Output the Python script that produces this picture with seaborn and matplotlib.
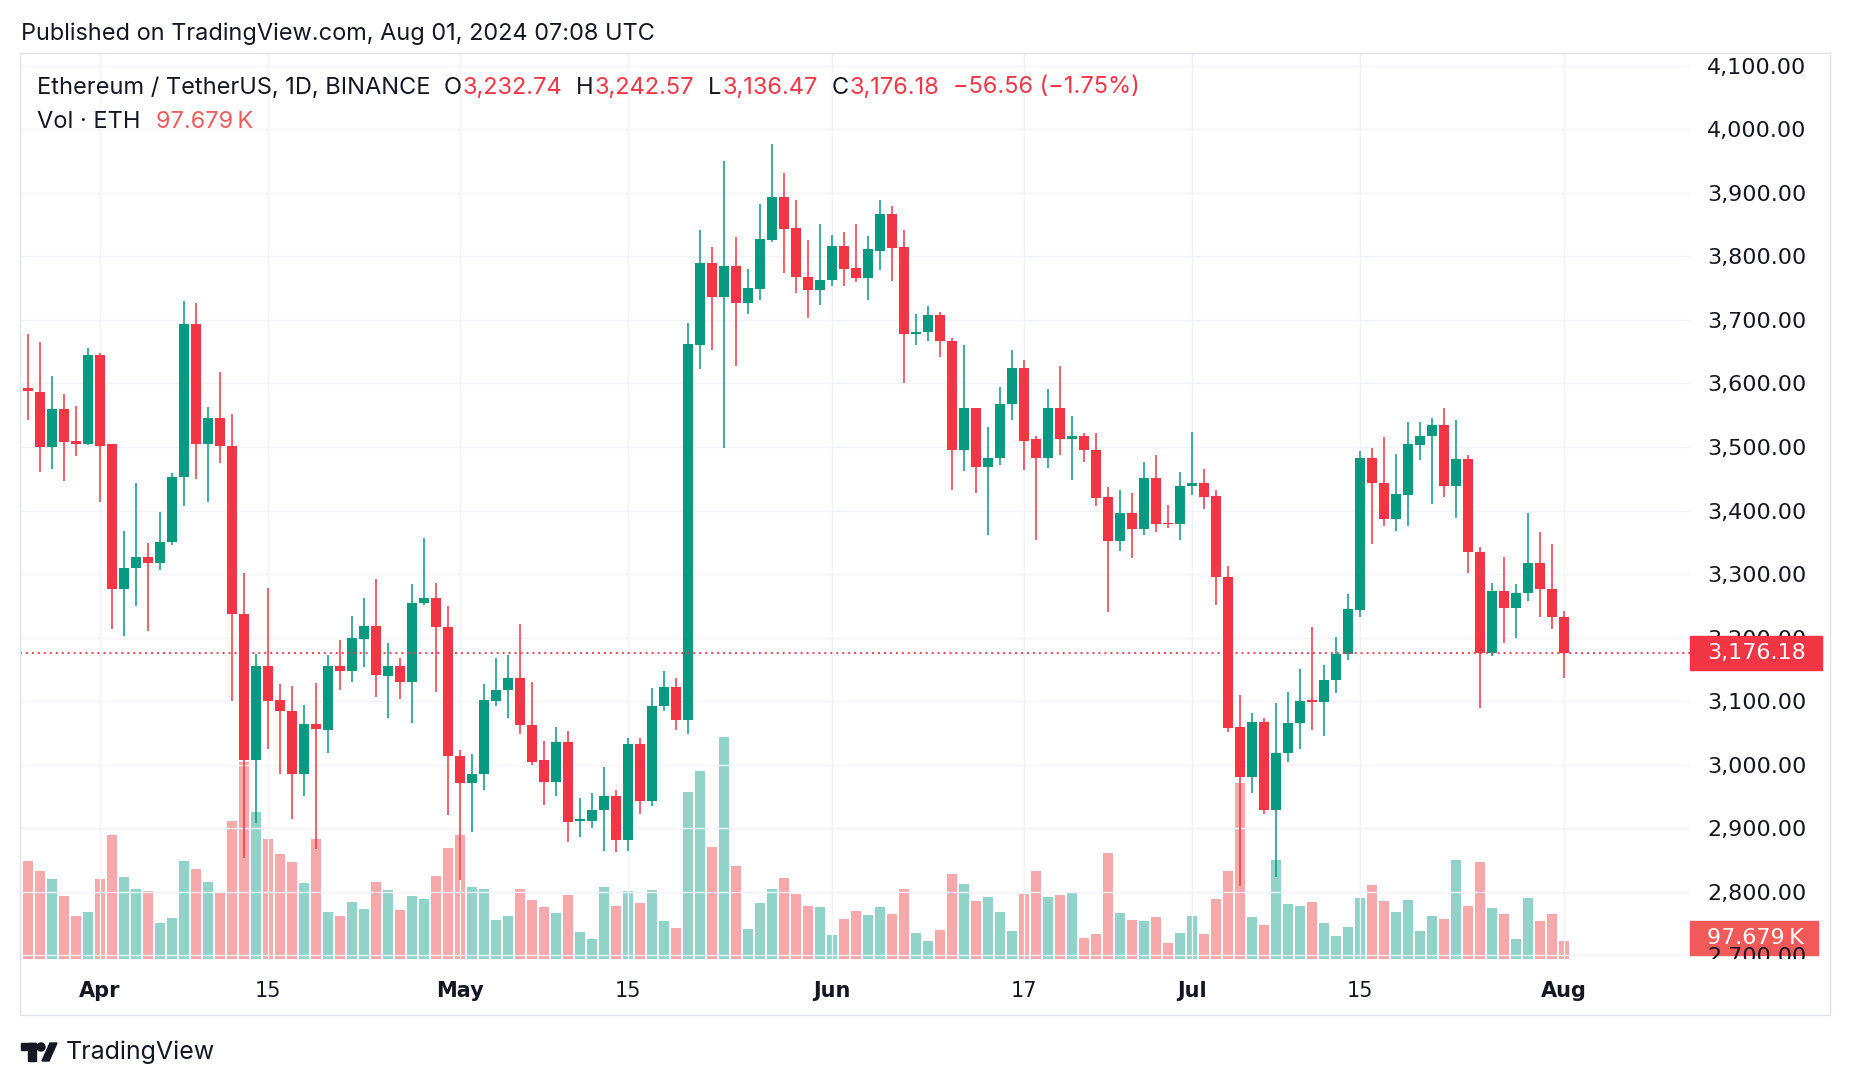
import matplotlib
matplotlib.use("Agg")
import matplotlib.pyplot as plt
import matplotlib.patches as mpatches
import matplotlib.transforms as mtrans
import numpy as np
import pandas as pd
import seaborn as sns

# ETH/USDT daily candles, 26 Mar - 1 Aug 2024
dates = pd.date_range("2024-03-26", "2024-08-01", freq="D")

opens = [
    3592, 3587, 3500, 3560, 3510, 3505,
    3645, 3504, 3277, 3309, 3327, 3317, 3350, 3452, 3694, 3505,
    3546, 3501, 3237, 3007, 3156, 3102, 3084, 2985, 3064, 3055,
    3156, 3147, 3198, 3218, 3139, 3156, 3130, 3254, 3263, 3216,
    3013, 2972, 2986, 3101, 3117, 3137, 3062, 3007, 2973, 3036,
    2911, 2912, 2929, 2951, 2882, 3033, 2943, 3092, 3123, 3071,
    3660, 3789, 3736, 3784, 3726, 3749, 3825, 3894, 3844, 3767, 3747,
    3762, 3816, 3781, 3766, 3809, 3866, 3814, 3678, 3681, 3707,
    3667, 3496, 3561, 3468, 3482, 3567, 3625, 3512, 3482, 3561,
    3513, 3518, 3496, 3421, 3352, 3396, 3371, 3451, 3381, 3378,
    3438, 3443, 3423, 3295, 3059, 2981, 3067, 2929, 3018, 3065,
    3102, 3099, 3133, 3175, 3244, 3483, 3443, 3386, 3425, 3503,
    3518, 3535, 3438, 3481, 3334, 3176, 3274, 3247, 3270, 3317, 3277,
    3232.74,
]
highs = [
    3678, 3665, 3612, 3584, 3565, 3655,
    3648, 3505, 3367, 3444, 3349, 3398, 3459, 3730, 3727, 3563,
    3618, 3552, 3301, 3175, 3278, 3127, 3124, 3094, 3129, 3172,
    3197, 3234, 3263, 3293, 3192, 3168, 3285, 3357, 3286, 3250,
    3023, 3017, 3127, 3168, 3172, 3222, 3130, 3038, 3059, 3053,
    2948, 2955, 2997, 2960, 3042, 3042, 3120, 3147, 3137, 3695,
    3841, 3814, 3950, 3830, 3780, 3883, 3977, 3931, 3888, 3825, 3851,
    3833, 3839, 3851, 3832, 3888, 3879, 3841, 3710, 3722, 3713,
    3672, 3660, 3562, 3532, 3594, 3653, 3637, 3517, 3591, 3627,
    3548, 3522, 3522, 3437, 3432, 3427, 3477, 3488, 3408, 3460,
    3524, 3465, 3432, 3313, 3110, 3081, 3073, 3097, 3114, 3150,
    3217, 3157, 3201, 3269, 3494, 3498, 3516, 3489, 3540, 3540,
    3546, 3561, 3542, 3488, 3342, 3286, 3327, 3284, 3396, 3366, 3348,
    3242.57,
]
lows = [
    3543, 3460, 3465, 3446, 3485, 3503,
    3414, 3213, 3203, 3250, 3210, 3307, 3345, 3407, 3450, 3413,
    3474, 3101, 2853, 2909, 3024, 2986, 2915, 2951, 2867, 3019,
    3117, 3130, 3153, 3106, 3073, 3103, 3066, 3251, 3115, 2921,
    2818, 2894, 2960, 3093, 3073, 3048, 2999, 2937, 2951, 2879,
    2887, 2901, 2865, 2862, 2865, 2923, 2935, 3084, 3054, 3048,
    3623, 3653, 3498, 3627, 3709, 3731, 3823, 3774, 3743, 3703, 3724,
    3753, 3753, 3759, 3731, 3778, 3761, 3600, 3660, 3666, 3642,
    3432, 3462, 3428, 3362, 3472, 3542, 3464, 3354, 3467, 3487,
    3448, 3476, 3407, 3240, 3337, 3325, 3362, 3366, 3372, 3354,
    3425, 3402, 3252, 3051, 2809, 2956, 2923, 2823, 3004, 3024,
    3055, 3045, 3113, 3164, 3233, 3347, 3376, 3367, 3376, 3480,
    3410, 3421, 3388, 3301, 3089, 3171, 3191, 3199, 3258, 3233, 3214,
    3136.47,
]
closes = [
    3588, 3500, 3560, 3508, 3505, 3645,
    3502, 3277, 3310, 3327, 3317, 3351, 3453, 3694, 3505, 3546,
    3501, 3237, 3007, 3156, 3101, 3084, 2985, 3064, 3056, 3156,
    3147, 3199, 3218, 3141, 3156, 3130, 3255, 3263, 3216, 3013,
    2972, 2986, 3102, 3118, 3137, 3062, 3005, 2973, 3036, 2910,
    2914, 2929, 2951, 2881, 3033, 2943, 3093, 3123, 3071, 3662,
    3789, 3736, 3784, 3726, 3750, 3827, 3894, 3843, 3767, 3747, 3762,
    3816, 3780, 3766, 3811, 3866, 3813, 3678, 3681, 3707, 3666,
    3496, 3561, 3468, 3482, 3568, 3625, 3510, 3482, 3561, 3512,
    3518, 3496, 3419, 3352, 3396, 3371, 3451, 3378, 3378, 3438,
    3443, 3422, 3296, 3058, 2981, 3067, 2929, 3018, 3065, 3100,
    3099, 3133, 3175, 3245, 3483, 3443, 3386, 3426, 3504, 3518,
    3535, 3438, 3481, 3334, 3176, 3274, 3247, 3270, 3317, 3277, 3232.74,
    3176.18,
]
# volume in thousands of ETH
volumes_k = [
    543, 484, 443, 349, 235, 261,
    443, 682, 450, 388, 378, 196, 227, 543, 498, 426,
    366, 763, 1086, 809, 665, 577, 538, 421, 665, 261,
    239, 316, 278, 426, 383, 273, 349, 333, 459, 615,
    682, 400, 388, 213, 239, 388, 323, 289, 256, 354,
    151, 113, 400, 294, 374, 307, 380, 208, 169, 921,
    1038, 617, 1225, 512, 164, 307, 386, 447, 357, 293, 286,
    131, 219, 263, 243, 286, 248, 386, 144, 102, 158,
    468, 412, 319, 342, 257, 152, 357, 486, 342, 351,
    363, 114, 137, 585, 252, 214, 208, 231, 88, 144,
    237, 137, 333, 488, 969, 230, 190, 544, 302, 290,
    314, 198, 125, 174, 339, 407, 318, 258, 323, 153,
    235, 219, 544, 295, 534, 279, 246, 109, 339, 207, 251,
    97.679,
]

tick_dates = ["2024-04-01", "2024-04-15", "2024-05-01", "2024-05-15", "2024-06-01",
              "2024-06-17", "2024-07-01", "2024-07-15", "2024-08-01"]
tick_labels = ["Apr", "15", "May", "15", "Jun", "17", "Jul", "15", "Aug"]
month_labels = {"Apr", "May", "Jun", "Jul", "Aug"}
price_ticks = list(range(2700, 4200, 100))

UP, DOWN = "#089981", "#f23645"
UP_VOL, DOWN_VOL = "#92d3c9", "#f7a8ab"
VOL_LABEL = "#f25a5a"
TEXT = "#131722"
GRID = "#f0f3fa"
FRAME = "#e0e3eb"

W, H = 1850, 1086
sns.set_theme(style="white")
plt.rcParams["font.family"] = ["DejaVu Sans"]

df = pd.DataFrame({"date": dates, "open": opens, "high": highs, "low": lows,
                   "close": closes, "volume": volumes_k})
df["pos"] = np.arange(len(df))
df["dir"] = np.where(df["close"] >= df["open"], "up", "down")


def fx(px):
    return px / W


def fy(py):
    return 1 - py / H


fig = plt.figure(figsize=(W / 100, H / 100), dpi=100)
fig.patch.set_facecolor("white")
renderer = fig.canvas.get_renderer()

ax = fig.add_axes([fx(20), fy(959), fx(1690) - fx(20), (959 - 53) / H])
axv = ax.twinx()
ax.set_zorder(axv.get_zorder() + 1)
ax.patch.set_visible(False)

# volume bars (background pane)
sns.barplot(data=df, x="pos", y="volume", hue="dir", palette={"up": UP_VOL, "down": DOWN_VOL},
            native_scale=True, width=0.83, dodge=False, saturation=1, errorbar=None,
            legend=False, linewidth=0, ax=axv)
axv.set_ylim(0, 5000)
axv.set_axis_off()

# candles
colors = np.where(df["dir"] == "up", UP, DOWN)
body_lo = np.minimum(df["open"], df["close"])
body_h = (df["close"] - df["open"]).abs()
small = body_h < 1.8
body_lo = np.where(small, (df["open"] + df["close"]) / 2 - 0.9, body_lo)
body_h = np.where(small, 1.8, body_h)
ax.vlines(df["pos"], df["low"], df["high"], colors=colors, lw=1.1, zorder=3)
ax.bar(df["pos"], body_h, bottom=body_lo, width=0.83, color=colors, linewidth=0, zorder=4)

ax.set_xlim(-0.64, 138.53)
ax.set_ylim(2694.3, 4119.9)
for s in ax.spines.values():
    s.set_visible(False)

# grid and axes
ax.set_axisbelow(True)
ax.grid(True, color=GRID, lw=1)
tick_pos = [df.index[df["date"] == pd.Timestamp(d)][0] for d in tick_dates]
ax.set_xticks(tick_pos, tick_labels)
ax.tick_params(axis="x", length=0, pad=15.5, labelsize=15, labelcolor=TEXT)
for lab in ax.get_xticklabels():
    if lab.get_text() in month_labels:
        lab.set_fontweight("bold")

ax.yaxis.tick_right()
ax.set_yticks(price_ticks, [f"{v:,.2f}" for v in price_ticks])
ax.tick_params(axis="y", length=0, pad=12.2, labelsize=16, labelcolor=TEXT)
# price scale is cut at the bottom of the pane
scale_clip = mtrans.TransformedBbox(mtrans.Bbox([[fx(1690), fy(959)], [fx(1830), fy(53)]]),
                                    fig.transFigure)
for tick in ax.yaxis.get_major_ticks():
    tick.label2.set_clip_on(True)
    tick.label2.set_clip_box(scale_clip)

# last price line and labels
last_close = closes[-1]
last_vol = volumes_k[-1]
ax.axhline(last_close, color=DOWN, lw=1.3, ls=(0, (1.1, 2.2)), zorder=5)

bt = mtrans.blended_transform_factory(fig.transFigure, ax.transData)
ax.add_patch(mpatches.FancyBboxPatch((fx(1690), last_close - 26.5), fx(1822) - fx(1690), 53,
                                     boxstyle="square,pad=0", transform=bt, color=DOWN,
                                     clip_on=False, zorder=10))
ax.text(fx(1707), last_close, f"{last_close:,.2f}", transform=bt, color="white",
        fontsize=16, va="center", ha="left", zorder=11)

bv = mtrans.blended_transform_factory(fig.transFigure, axv.transData)
axv.add_patch(mpatches.Rectangle((fx(1690), last_vol - 93 + 18), fx(1818) - fx(1690), 186,
                                 transform=bv, color=VOL_LABEL, clip_on=False, zorder=10))
axv.text(fx(1707), last_vol + 18, f"{last_vol:.3f}\u2009K", transform=bv, color="white",
         fontsize=16, va="center", ha="left", zorder=11, family=["DejaVu Sans"])

# frame
fig.patches.append(mpatches.Rectangle((fx(20), fy(1015)), fx(1830) - fx(20), (1015 - 53) / H,
                                      fill=False, ec=FRAME, lw=1, transform=fig.transFigure))


def fit(t, width_px):
    w = t.get_window_extent(renderer).width
    t.set_fontsize(t.get_fontsize() * width_px / w)
    return t.get_fontsize()


HEAD_FONT = ["Inter", "DejaVu Sans"]

pub = fig.text(fx(21), fy(34), "Published on TradingView.com, Aug 01, 2024 07:08 UTC",
               color=TEXT, fontsize=16, va="center", ha="left", family=HEAD_FONT)
fit(pub, 636)

# legend header inside the pane
title = fig.text(fx(37), fy(87.5), "Ethereum / TetherUS, 1D, BINANCE", color=TEXT,
                 fontsize=16, va="center", ha="left", family=HEAD_FONT)
hsize = fit(title, 394)
change = closes[-1] - closes[-2]
pct = change / closes[-2] * 100
segments = [
    ("O", TEXT, 9.4), (f"{opens[-1]:,.2f}", DOWN, 0.6),
    ("H", TEXT, 10), (f"{highs[-1]:,.2f}", DOWN, 0.6),
    ("L", TEXT, 10), (f"{lows[-1]:,.2f}", DOWN, 0.6),
    ("C", TEXT, 10), (f"{closes[-1]:,.2f}", DOWN, 0.6),
    (f"\u2212{abs(change):.2f} (\u2212{abs(pct):.2f}%)", DOWN, 10),
]
prev = title
for txt, col, gap in segments:
    prev = ax.annotate(txt, xy=(1, 0.5), xycoords=prev, xytext=(gap, 0),
                       textcoords="offset points", va="center", ha="left",
                       color=col, fontsize=hsize, family=HEAD_FONT,
                       annotation_clip=False)

vol_t = fig.text(fx(37), fy(122), "Vol \u00b7 ETH", color=TEXT, fontsize=hsize,
                 va="center", ha="left", family=HEAD_FONT)
ax.annotate(f"{last_vol:.3f}\u2009K", xy=(1, 0.5), xycoords=vol_t, xytext=(11, 0),
            textcoords="offset points", va="center", ha="left", color=VOL_LABEL,
            fontsize=hsize, family=HEAD_FONT, annotation_clip=False)

# TradingView logo
ft = fig.transFigure
fig.patches.append(mpatches.Rectangle((fx(21), fy(1050)), fx(36) - fx(21), 7 / H,
                                      color=TEXT, transform=ft))
fig.patches.append(mpatches.Rectangle((fx(28), fy(1061)), fx(36) - fx(28), 18 / H,
                                      color=TEXT, transform=ft))
fig.patches.append(mpatches.Ellipse((fx(41), fy(1047)), 8 / W, 8 / H, color=TEXT, transform=ft))
fig.patches.append(mpatches.Polygon([(fx(42), fy(1061)), (fx(49), fy(1061)),
                                     (fx(57), fy(1043)), (fx(50), fy(1043))],
                                    closed=True, color=TEXT, transform=ft))
logo = fig.text(fx(66), fy(1052), "TradingView", color=TEXT, fontsize=16,
                va="center", ha="left", family=HEAD_FONT)
fit(logo, 150)

fig.savefig("out.png", dpi=100, facecolor="white")
